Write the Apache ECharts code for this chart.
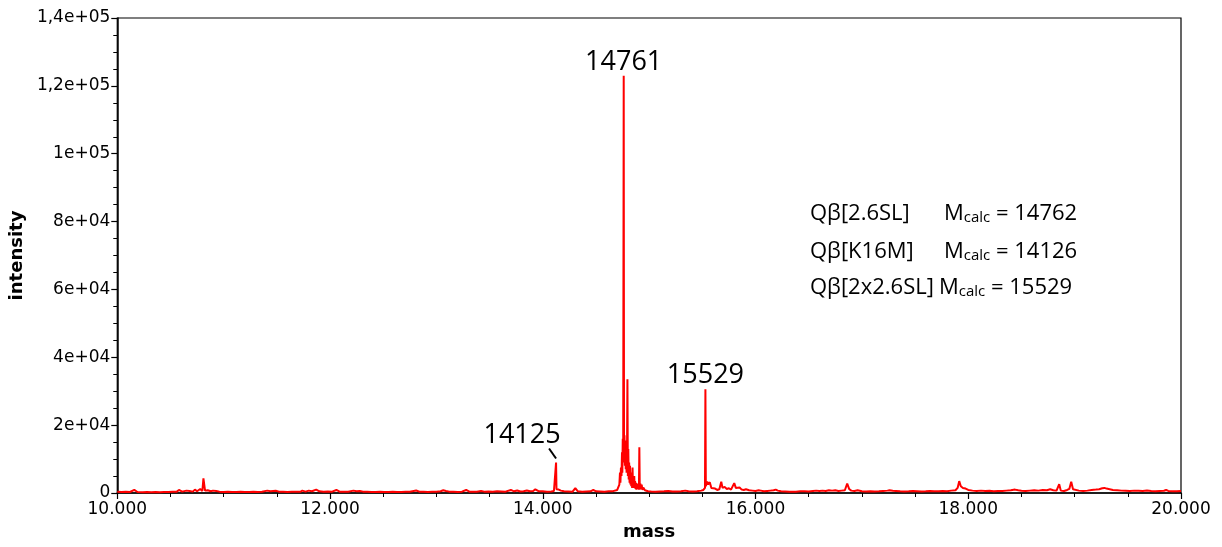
<!DOCTYPE html>
<html>
<head>
<meta charset="utf-8">
<script src="https://cdn.jsdelivr.net/npm/echarts@6/dist/echarts.min.js"></script>
<style>
html,body{margin:0;padding:0;background:#fff;}
#c{width:1222px;height:547px;}
</style>
</head>
<body>
<div id="c"></div>
<script>
// ---- data ----
var mass = [
10000,10040,10080,10120,10160,10190,10240,10280,10320,10360,
10400,10440,10480,10520,10560,10580,10610,10650,10680,10710,
10730,10750,10780,10800,10810,10825,10850,10880,10900,10930,
10960,11000,11040,11080,11120,11160,11200,11240,11280,11320,
11360,11410,11440,11490,11520,11560,11600,11640,11680,11720,
11740,11770,11800,11830,11870,11900,11940,11980,12020,12060,
12090,12130,12170,12220,12250,12280,12310,12350,12390,12430,
12470,12510,12550,12590,12630,12670,12710,12750,12810,12840,
12880,12920,12960,13000,13040,13065,13090,13120,13160,13200,
13240,13280,13310,13350,13380,13420,13450,13490,13530,13570,
13610,13650,13700,13730,13760,13790,13820,13850,13880,13910,
13930,13960,14000,14040,14080,14105,14115,14121,14125,14129,
14140,14150,14170,14200,14240,14280,14306,14330,14370,14410,
14450,14475,14500,14540,14580,14620,14660,14700,14720,14726,
14730,14735,14740,14745,14748,14752,14756,14761,14764,14768,
14772,14776,14780,14784,14788,14792,14796,14800,14804,14808,
14812,14816,14820,14824,14828,14832,14836,14840,14844,14848,
14852,14856,14860,14864,14868,14872,14876,14880,14886,14892,
14898,14904,14908,14912,14918,14924,14930,14936,14945,14960,
14990,15020,15060,15100,15140,15180,15220,15260,15300,15340,
15370,15410,15450,15490,15510,15520,15525,15529,15533,15545,
15555,15570,15585,15600,15620,15640,15660,15678,15690,15710,
15730,15750,15770,15800,15815,15830,15850,15870,15890,15910,
15940,15970,16000,16030,16050,16080,16110,16140,16170,16190,
16210,16240,16280,16320,16350,16380,16420,16460,16500,16540,
16570,16600,16630,16660,16690,16720,16750,16780,16810,16840,
16862,16880,16900,16930,16960,17000,17040,17080,17120,17160,
17200,17240,17260,17290,17320,17360,17400,17440,17480,17520,
17560,17600,17640,17680,17720,17760,17800,17840,17880,17900,
17915,17930,17950,17975,18000,18040,18080,18120,18160,18200,
18240,18280,18320,18360,18400,18440,18470,18500,18540,18580,
18620,18660,18700,18740,18770,18800,18830,18855,18870,18900,
18930,18950,18968,18985,19000,19040,19080,19120,19160,19200,
19230,19260,19280,19300,19330,19360,19400,19440,19480,19520,
19560,19600,19640,19680,19720,19760,19800,19840,19860,19880,
19920,19960,20000
];
var intensity = [
400,300,350,300,900,300,250,300,250,300,
250,300,280,350,400,900,400,700,600,400,
1000,500,1200,600,4300,700,800,500,700,600,
400,300,350,300,300,350,300,300,350,300,
400,700,500,650,400,350,300,350,400,350,
700,400,700,500,1000,500,350,450,400,900,
400,350,400,700,500,600,400,350,300,300,
350,300,300,350,300,300,350,400,750,400,
350,300,350,400,500,800,600,400,350,300,
400,900,400,350,400,600,400,450,400,500,
450,400,900,500,750,450,500,750,500,600,
1100,550,500,400,450,600,700,1000,9000,1100,
900,1000,700,500,450,400,1400,500,400,450,
500,900,500,450,400,500,550,900,2500,6000,
3000,7500,5000,12000,6000,16000,9000,123000,10000,17000,
8000,15500,7000,13000,6000,11000,33500,5000,13000,4000,
9000,3000,8000,2500,6000,2000,5000,1500,7500,2000,
4500,1500,5000,1500,3500,1200,3000,1000,2800,1200,
2000,1000,13500,1000,2800,1200,2500,900,1600,800,
500,450,400,450,500,600,450,450,500,700,
500,450,500,700,900,1200,1500,30600,2000,3400,
2500,3200,1500,1600,1300,900,1100,3300,1500,1800,
1200,1400,1000,2900,1500,1300,1600,1000,900,1100,
800,700,600,800,700,500,600,700,800,1000,
700,500,450,400,400,400,500,500,450,600,
700,600,700,600,800,700,800,600,700,800,
2800,1200,700,600,800,500,450,500,450,500,
600,700,800,650,600,500,450,500,600,550,
450,500,600,550,500,600,550,700,800,1500,
3500,2000,1500,1300,900,700,600,700,600,650,
550,600,600,700,800,1000,800,650,600,700,
800,700,900,800,1100,800,700,2600,700,600,
900,1200,3300,1100,800,700,600,700,900,1000,
1100,1400,1500,1300,1100,900,800,700,650,600,
700,650,600,750,600,550,600,650,900,600,
550,500,600
];
var peakMass = [14761, 15529, 14125];
var peakText = ['14761', '15529', '14125'];
var yTickLabels = {0:'0', 20000:'2e+04', 40000:'4e+04', 60000:'6e+04', 80000:'8e+04', 100000:'1e+05', 120000:'1,2e+05', 140000:'1,4e+05'};
var legendNames = ['Q\u03B2[2.6SL]', 'Q\u03B2[K16M]', 'Q\u03B2[2x2.6SL]'];
var legendMcalc = ['14762', '14126', '15529'];

var seriesData = mass.map(function (m, i) { return [m, intensity[i]]; });

var chart = echarts.init(document.getElementById('c'), null, {renderer: 'canvas'});
var axisFont = 'DejaVu Sans';
var noteFont = 'Open Sans';

chart.setOption({
  animation: false,
  backgroundColor: '#ffffff',
  grid: {left: 117, right: 41, top: 18, bottom: 54, show: true, borderColor: '#000', borderWidth: 1.2},
  xAxis: {
    type: 'value', min: 10000, max: 20000, interval: 2000,
    name: 'mass', nameLocation: 'middle', nameGap: 30,
    nameTextStyle: {fontFamily: axisFont, fontWeight: 'bold', fontSize: 18, color: '#000'},
    axisLine: {show: true, onZero: false, lineStyle: {color: '#000', width: 1.5}},
    axisTick: {show: true, length: 6, lineStyle: {color: '#000', width: 1.2}},
    minorTick: {show: true, splitNumber: 4, length: 4, lineStyle: {color: '#000', width: 1}},
    splitLine: {show: false},
    axisLabel: {fontFamily: axisFont, fontSize: 17, color: '#000', margin: 8,
      formatter: function (v) { return (v / 1000).toFixed(3); }}
  },
  yAxis: {
    type: 'value', min: 0, max: 140000, interval: 20000,
    name: 'intensity', nameLocation: 'middle', nameGap: 86,
    nameTextStyle: {fontFamily: axisFont, fontWeight: 'bold', fontSize: 18, color: '#000'},
    axisLine: {show: true, lineStyle: {color: '#000', width: 1.5}},
    axisTick: {show: true, length: 6, lineStyle: {color: '#000', width: 1.2}},
    minorTick: {show: true, splitNumber: 4, length: 4, lineStyle: {color: '#000', width: 1}},
    splitLine: {show: false},
    axisLabel: {fontFamily: axisFont, fontSize: 17, color: '#000', margin: 7,
      formatter: function (v) { return yTickLabels[v] !== undefined ? yTickLabels[v] : ''; }}
  },
  series: [{
    type: 'line', data: seriesData, showSymbol: false, symbol: 'none',
    sampling: null, lineStyle: {color: '#ff0000', width: 2}, z: 3
  }]
});

function px(m, v) { return chart.convertToPixel({gridIndex: 0}, [m, v]); }
function peakValue(m) { return intensity[mass.indexOf(m)]; }

var graphics = [];
var offsets = [[0, 0], [0, 0], [-34, -14]];
peakMass.forEach(function (m, i) {
  var p = px(m, peakValue(m));
  graphics.push({type: 'text', x: p[0] + offsets[i][0], y: p[1] + offsets[i][1], z: 10,
    style: {text: peakText[i], fontFamily: noteFont, fontSize: 27, fill: '#000', textAlign: 'center', textVerticalAlign: 'bottom'}});
  if (i === 2) {
    graphics.push({type: 'line', z: 10, shape: {x1: p[0] - 7, y1: p[1] - 14, x2: p[0], y2: p[1] - 4},
      style: {stroke: '#000', lineWidth: 2}});
  }
});

var legendTop = [218, 256, 292];
var mLeft = [944, 944, 939];
legendNames.forEach(function (n, i) {
  graphics.push({type: 'text', left: 810, top: legendTop[i] - 15, z: 10,
    style: {text: n, fontFamily: noteFont, fontSize: 22, fill: '#000'}});
  graphics.push({type: 'text', left: mLeft[i], top: legendTop[i] - 15, z: 10,
    style: {text: '{m|M}{s|calc}{m| = ' + legendMcalc[i] + '}', fill: '#000',
      rich: {m: {fontFamily: noteFont, fontSize: 22, fill: '#000', verticalAlign: 'bottom', lineHeight: 29},
             s: {fontFamily: noteFont, fontSize: 15, fill: '#000', verticalAlign: 'bottom', lineHeight: 25}}}});
});
chart.setOption({graphic: graphics});
</script>
</body>
</html>
